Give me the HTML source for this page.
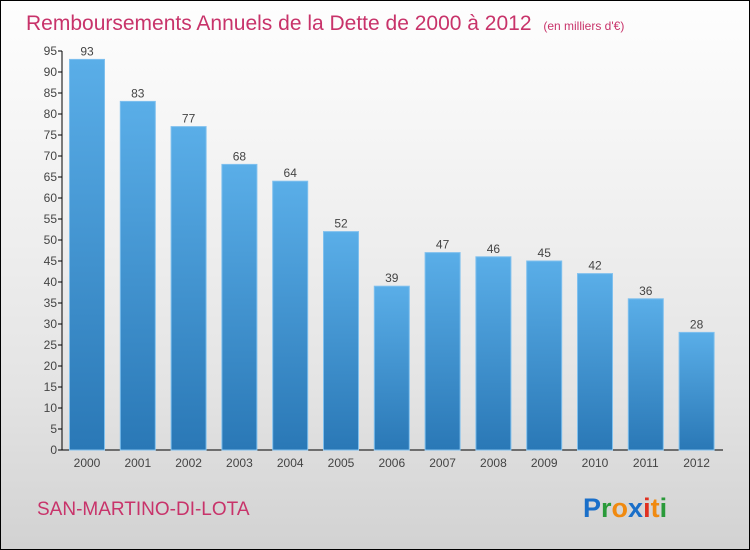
<!DOCTYPE html>
<html><head><meta charset="utf-8"><style>
body{margin:0;}
#c{position:relative;width:748px;height:548px;border:1px solid #000;background:linear-gradient(#fefefe,#f3f3f3 30%,#e4e4e4 70%,#d2d2d2);font-family:"Liberation Sans",sans-serif;overflow:hidden}
</style></head><body>
<div id="c">
<svg width="748" height="548">
<defs><linearGradient id="bg" x1="0" y1="0" x2="0" y2="1"><stop offset="0" stop-color="#5aaee8"/><stop offset="1" stop-color="#2a78b6"/></linearGradient></defs>
<text x="25" y="29" font-size="21" fill="#c8336a">Remboursements Annuels de la Dette de 2000 à 2012 <tspan font-size="12" dx="6">(en milliers d'€)</tspan></text>
<g id="axes"></g>
<g id="bars"></g>
<text x="36" y="514" font-size="19" fill="#c8336a">SAN-MARTINO-DI-LOTA</text>
<text x="582" y="516" font-size="27" font-weight="bold"><tspan fill="#1a6fc9">P</tspan><tspan fill="#2a9a3a">r</tspan><tspan fill="#f08a10">o</tspan><tspan fill="#1a6fc9">x</tspan><tspan fill="#e03020">i</tspan><tspan fill="#f08a10">t</tspan><tspan fill="#2a9a3a">i</tspan></text>
</svg>
</div>
<script>
const years=["2000","2001","2002","2003","2004","2005","2006","2007","2008","2009","2010","2011","2012"];
const values=[93,83,77,68,64,52,39,47,46,45,42,36,28];
const ticks=[0,5,10,15,20,25,30,35,40,45,50,55,60,65,70,75,80,85,90,95];
const NS="http://www.w3.org/2000/svg";
const y0=449,yTop=50,yMax=95,x0=61,step=50.8,bw=35;
const y=v=>y0-(v/yMax)*(y0-yTop);
const xc=i=>x0+25+i*step;
function mk(t,a,p){const e=document.createElementNS(NS,t);for(const k in a)e.setAttribute(k,a[k]);if(p)p.appendChild(e);return e;}
const ax=document.getElementById('axes'),bs=document.getElementById('bars');
const yl=mk('line',{x1:x0,y1:yTop,x2:x0,y2:y0,stroke:'#000'},ax);


const xl=mk('line',{x1:x0,y1:y0,x2:722,y2:y0,stroke:'#000'},ax);


ticks.forEach(t=>{
 mk('line',{x1:x0-4,y1:y(t),x2:x0,y2:y(t),stroke:'#000'},ax);
 const tx=mk('text',{x:x0-5,y:y(t)+4,'font-size':12,'text-anchor':'end',fill:'#444'},ax);
 tx.textContent=t;
 
 
});
years.forEach((yr,i)=>{
 const v=values[i];
 const r=mk('rect',{x:xc(i)-bw/2,y:y(v),width:bw,height:y0-y(v),fill:'url(#bg)',stroke:'#7fc0ee','stroke-width':1},bs);
 
 
 const lb=mk('text',{x:xc(i),y:y(v)-4,'font-size':12,'text-anchor':'middle',fill:'#444'},bs);
 lb.textContent=v;
 
 
 const xt=mk('text',{x:xc(i),y:466,'font-size':12,'text-anchor':'middle',fill:'#444'},ax);
 xt.textContent=yr;
 
 
});
</script>
</body></html>
